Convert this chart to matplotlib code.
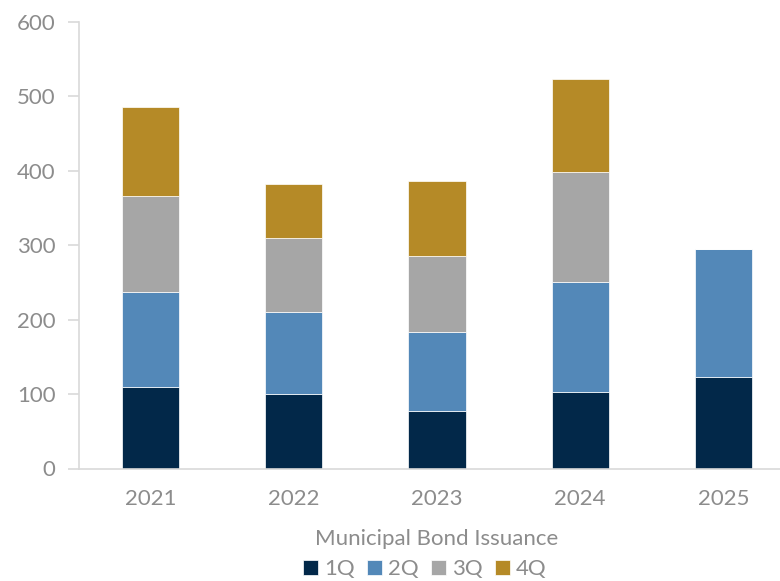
import matplotlib
matplotlib.use("Agg")
import matplotlib.pyplot as plt
import numpy as np

years = ["2021", "2022", "2023", "2024", "2025"]
q1 = [110, 100.5, 77, 103, 122.5]
q2 = [127.5, 110, 107, 148, 172]
q3 = [128.5, 99, 101.5, 147, 0]
q4 = [120, 73, 100.5, 125, 0]
series_names = ["1Q", "2Q", "3Q", "4Q"]
colors = ["#022849", "#5388b8", "#a6a6a6", "#b58a27"]

plt.rcParams['font.family'] = ['Lato', 'DejaVu Sans']
text_color = "#8c8c8c"
axis_color = "#d9d9d9"

fig = plt.figure(figsize=(7.8, 5.81), dpi=100)
ax = fig.add_axes([79 / 780, (581 - 468.5) / 581, (795 - 79) / 780, (468.5 - 22) / 581])

x = np.arange(len(years))
bottom = np.zeros(len(years))
for name, vals, c in zip(series_names, [q1, q2, q3, q4], colors):
    vals = np.array(vals, dtype=float)
    ax.bar(x, vals, width=0.4, bottom=bottom, color=c, label=name,
           edgecolor="white", linewidth=0.5)
    bottom += vals

ax.set_xlim(-0.5, len(years) - 0.5)
ax.set_ylim(0, 600)
ax.set_yticks(range(0, 601, 100))
ax.set_xticks(x)
ax.set_xticklabels(years)

for s in ["top", "right"]:
    ax.spines[s].set_visible(False)
ax.spines["left"].set_color(axis_color)
ax.spines["bottom"].set_color(axis_color)
ax.spines["left"].set_linewidth(1.2)
ax.spines["bottom"].set_linewidth(1.2)

ax.tick_params(axis="y", colors=axis_color, labelcolor=text_color, labelsize=16,
               length=8, width=1.2, pad=9)
ax.tick_params(axis="x", length=0, labelcolor=text_color, labelsize=16, pad=15)

ax.set_xlabel("Municipal Bond Issuance", color=text_color, fontsize=16)
ax.xaxis.set_label_coords((437 - 79) / (795 - 79), -0.135)

leg = fig.legend(loc="center", bbox_to_anchor=(425 / 780, 1 - 569 / 581), ncol=4,
                 frameon=False, fontsize=16, handlelength=0.65, handleheight=0.65,
                 handletextpad=0.3, columnspacing=0.55, borderpad=0)
for t in leg.get_texts():
    t.set_color(text_color)

fig.savefig("out.png", dpi=100)
